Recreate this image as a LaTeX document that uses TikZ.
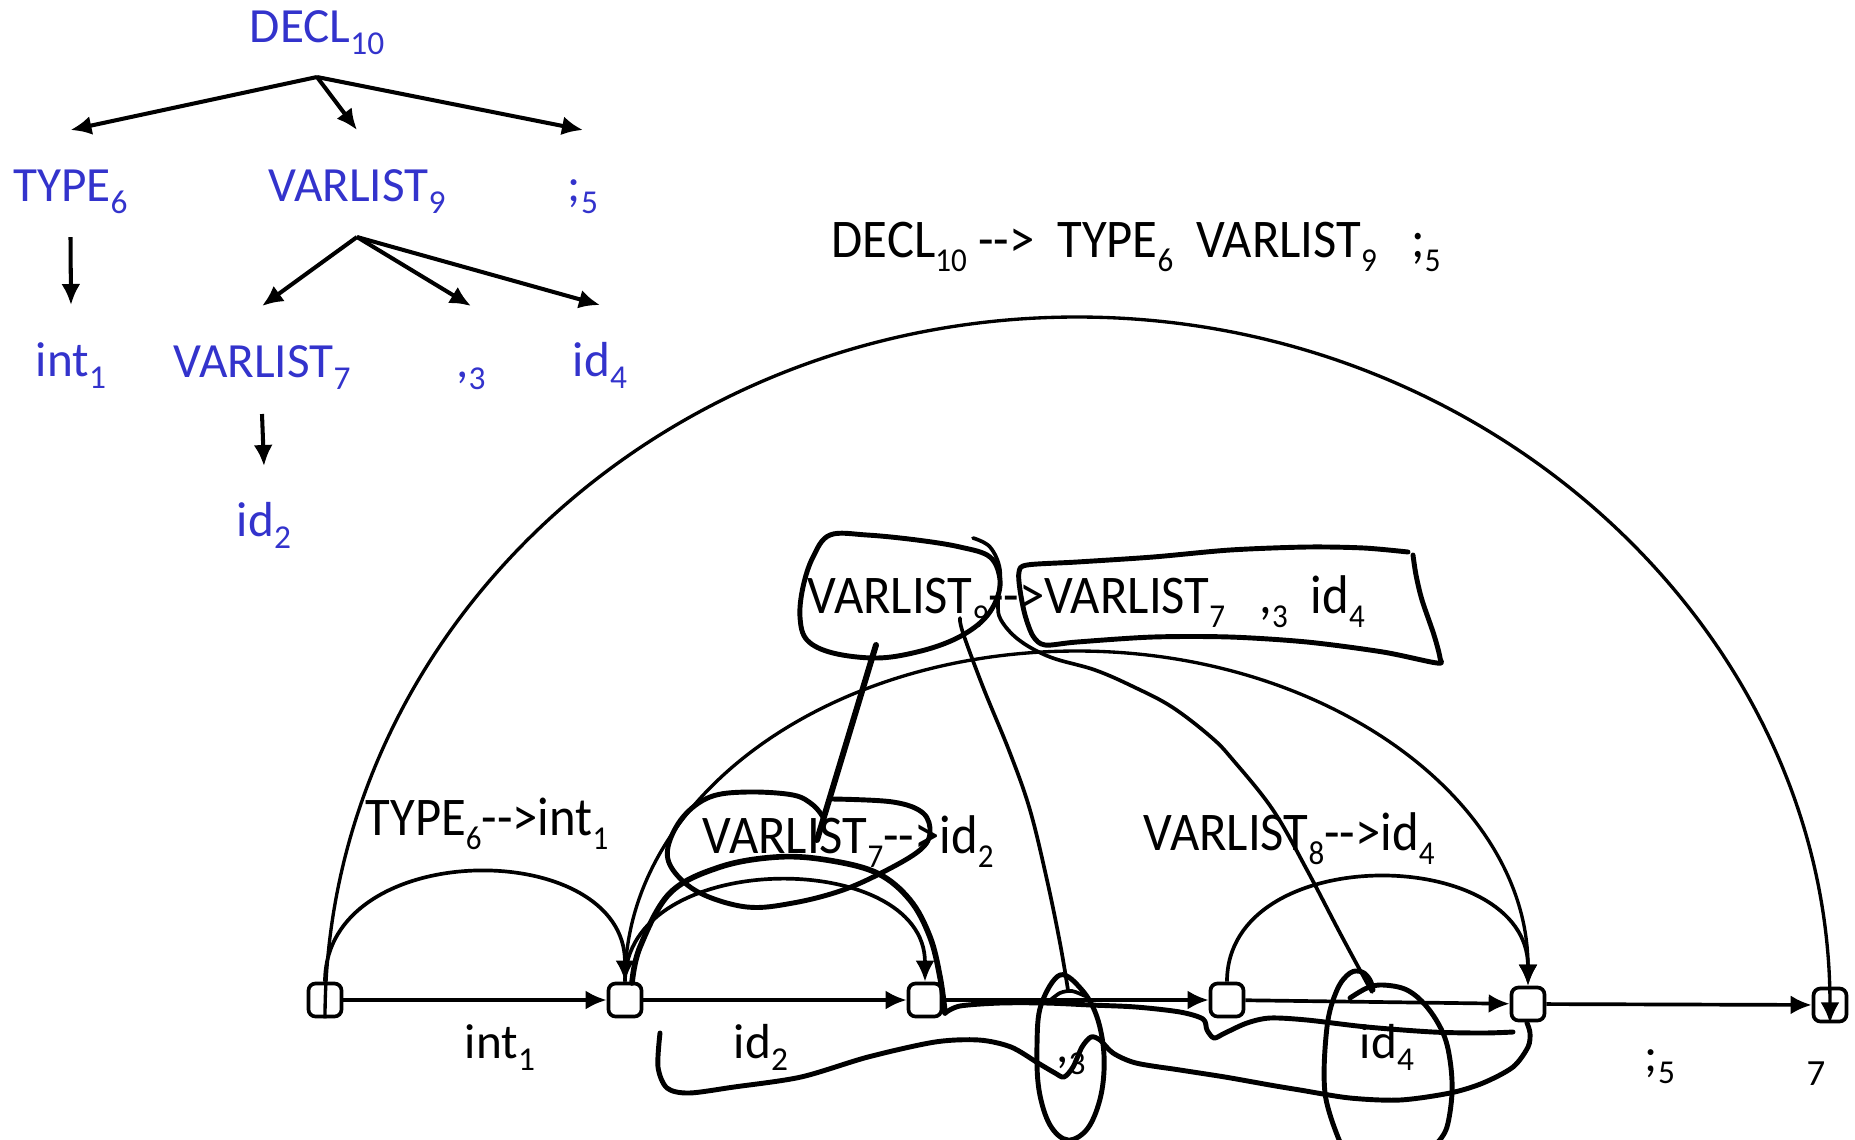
\documentclass[tikz,border=0pt]{standalone}
\usepackage{fontspec}
\setmainfont{Carlito}
\newfontfamily\tallfont[FakeStretch=0.93]{Carlito}
\usetikzlibrary{arrows.meta}
\definecolor{treeblue}{RGB}{51,51,204}
\newcommand{\ix}[1]{\raisebox{-0.26em}{\fontsize{9.5}{10}\selectfont #1}}
\newcommand{\yields}{-{}-{}>}

\begin{document}
\begin{tikzpicture}[
  every node/.style={font=\fontsize{14}{16}\selectfont, inner sep=0pt},
  treetext/.style={text=treeblue, anchor=base},
  ruletext/.style={anchor=base west, font=\tallfont\fontsize{15.5}{18}\selectfont},
  tree/.style={-{Latex[length=2.1mm,width=1.9mm]}, line width=1.15pt},
  edge/.style={-{Latex[length=2.1mm,width=1.9mm]}, line width=1.05pt},
  vertex/.style={draw, line width=1.05pt, rounded corners=2pt, minimum size=0.33cm},
  hand/.style={line width=1.4pt, line cap=round, line join=round}
]
  \useasboundingbox (0,0) rectangle (18.55,-11.39);

  % Parse tree
  \node[treetext] (decl) at (3.17,-0.42) {DECL\ix{10}};
  \node[treetext] (type) at (0.705,-2.01) {TYPE\ix{6}};
  \node[treetext] (vl9) at (3.57,-2.01) {VARLIST\ix{9}};
  \node[treetext] (semi) at (5.83,-2.01) {;\ix{5}};
  \node[treetext] (int) at (0.71,-3.76) {int\ix{1}};
  \node[treetext] (vl7) at (2.62,-3.77) {VARLIST\ix{7}};
  \node[treetext] (comma) at (4.71,-3.77) {,\ix{3}};
  \node[treetext] (id4) at (6.00,-3.76) {id\ix{4}};
  \node[treetext] (id2) at (2.64,-5.36) {id\ix{2}};

  \foreach \c in {type,vl9,semi}
    \draw[tree] ([yshift=-0.35cm]decl.base) -- ([yshift=0.71cm]\c.base);
  \draw[tree] ([yshift=-0.36cm]type.base) -- ([yshift=0.71cm]int.base);
  \foreach \c in {vl7,comma,id4}
    \draw[tree] ([yshift=-0.36cm]vl9.base) -- ([yshift=0.71cm]\c.base);
  \draw[tree] ([yshift=-0.37cm]vl7.base) -- ([yshift=0.70cm]id2.base);

  % Rule being reduced
  \node[ruletext] (r10) at (8.31,-2.57) {DECL\ix{10} \yields\ \ TYPE\ix{6}\ \ VARLIST\ix{9}\ \ \ ;\ix{5}};

  % Chart positions
  \node[vertex] (n1) at (3.25,-10.00) {};
  \node[vertex] (n2) at (6.25,-10.00) {};
  \node[vertex] (n3) at (9.25,-10.00) {};
  \node[vertex] (n4) at (12.27,-10.00) {};
  \node[vertex] (n5) at (15.28,-10.04) {};
  \node[vertex] (n6) at (18.30,-10.05) {};

  \foreach \a/\b in {n1/n2,n2/n3,n3/n4,n4/n5,n5/n6}
    \draw[edge] (\a) -- (\b);

  % Token labels
  \node[anchor=base] (tint) at (5.00,-10.58) {int\ix{1}};
  \node[anchor=base] (tid2) at (7.61,-10.58) {id\ix{2}};
  \node[anchor=base] (tcomma) at (10.71,-10.62) {,\ix{3}};
  \node[anchor=base] (tid4) at (13.87,-10.58) {id\ix{4}};
  \node[anchor=base] (tsemi) at (16.60,-10.71) {;\ix{5}};
  \node[anchor=base, font=\fontsize{10.5}{12}\selectfont] (tlast) at (18.16,-10.85) {7};

  % Completed edges
  \draw[edge] (n1.north) .. controls +(0,1.45) and +(0,1.45) .. (n2.north);
  \draw[edge] (n2.north) .. controls +(0,1.34) and +(0,1.34) .. (n3.north);
  \draw[edge] (n4.north) .. controls +(0,1.41) and +(0,1.41) .. (n5.north);
  \coordinate (top9) at (10.77,-6.51);
  \draw[edge, line width=0.95pt] (n2.north) .. controls +(0,1.84) and +(-2.50,0) .. (top9)
    .. controls +(2.49,0) and +(0,1.86) .. (n5.north);
  \coordinate (top10) at (10.77,-3.17);
  \draw[edge, line width=0.95pt] (n1.south) .. controls +(0,3.86) and +(-4.16,0) .. (top10)
    .. controls +(4.16,0) and +(0,3.89) .. (n6.south);

  \node[ruletext] (r6) at (3.65,-8.35) {TYPE\ix{6}\yields int\ix{1}};
  \node[ruletext] (r7) at (7.02,-8.53) {VARLIST\ix{7}\yields id\ix{2}};
  \node[ruletext] (r8) at (11.43,-8.50) {VARLIST\ix{8}\yields id\ix{4}};
  \node[ruletext] (r9) at (8.07,-6.13) {VARLIST\ix{9}\yields VARLIST\ix{7}\ \ \ ,\ix{3}\ \ id\ix{4}};

  % Pen marks: left-hand side
  \draw[hand] plot[smooth cycle, tension=0.6] coordinates {(8.30,-5.35) (8.67,-5.35) (9.17,-5.40)
    (9.60,-5.47) (9.90,-5.57) (10.00,-5.80) (9.95,-6.03) (9.80,-6.23) (9.53,-6.40) (9.17,-6.52)
    (8.77,-6.58) (8.33,-6.53) (8.07,-6.40) (8.00,-6.17) (8.03,-5.87) (8.13,-5.57)};
  % Pen marks: right-hand side
  \draw[hand] plot[smooth, tension=0.5] coordinates {(14.08,-5.52) (13.64,-5.48) (13.07,-5.47)
    (12.30,-5.50) (11.53,-5.57) (10.77,-5.62) (10.27,-5.65) (10.19,-5.72) (10.20,-5.90)
    (10.25,-6.15) (10.33,-6.36) (10.45,-6.45) (10.77,-6.42) (11.53,-6.37) (12.30,-6.37)
    (13.07,-6.42) (13.83,-6.52) (14.37,-6.63) (14.40,-6.58) (14.34,-6.35) (14.22,-6.00)
    (14.16,-5.75) (14.13,-5.55)};

  % Links down to the children
  \draw[hand, line width=1.7pt] (8.76,-6.45) -- (8.17,-8.40);
  \draw[hand, line width=1.05pt] plot[smooth, tension=0.6] coordinates {(9.60,-6.18) (9.63,-6.33)
    (9.83,-6.87) (10.10,-7.53) (10.30,-8.10) (10.47,-8.80) (10.60,-9.43) (10.68,-9.90)};
  \draw[hand, line width=1.05pt] plot[smooth] coordinates {(10.48,-10.02) (10.60,-9.93) (10.72,-9.91) (10.85,-9.96)};
  \draw[hand, line width=1.05pt] plot[smooth, tension=0.6] coordinates {(9.73,-5.38) (9.90,-5.47)
    (10.00,-5.70) (9.98,-6.03) (10.01,-6.20) (10.19,-6.40) (10.50,-6.57) (10.95,-6.70)
    (11.34,-6.87) (11.72,-7.07) (12.11,-7.37) (12.33,-7.60) (12.73,-8.10) (13.07,-8.70)
    (13.40,-9.33) (13.67,-9.83) (13.72,-9.92)};

  % Loop round VARLIST7
  \draw[hand] plot[smooth, tension=0.6] coordinates {(8.33,-7.99) (8.93,-8.02) (9.23,-8.13)
    (9.30,-8.33) (9.20,-8.50) (8.87,-8.70) (8.43,-8.90) (7.93,-9.03) (7.47,-9.07) (7.00,-8.93)
    (6.73,-8.70) (6.68,-8.47) (6.83,-8.17) (7.10,-7.97) (7.47,-7.92) (7.93,-7.95) (8.13,-8.05)
    (8.23,-8.17)};

  % Rings round the tokens
  \draw[hand] plot[smooth cycle, tension=0.6] coordinates {(10.60,-9.75) (10.82,-9.90)
    (10.97,-10.17) (11.04,-10.55) (11.01,-10.95) (10.88,-11.28) (10.68,-11.40) (10.50,-11.25)
    (10.39,-10.90) (10.37,-10.45) (10.41,-10.05)};
  \draw[hand] plot[smooth, tension=0.6] coordinates {(13.40,-11.42) (13.25,-10.93) (13.27,-10.27)
    (13.37,-9.90) (13.50,-9.73) (13.62,-9.72) (13.70,-9.80) (13.73,-9.90)};
  \draw[hand] plot[smooth, tension=0.6] coordinates {(13.50,-9.98) (13.67,-9.88) (13.83,-9.85)
    (14.07,-9.90) (14.27,-10.07) (14.43,-10.33) (14.50,-10.60) (14.52,-10.93) (14.47,-11.27)
    (14.38,-11.42)};

  % Span of VARLIST9 along the chart
  \draw[hand, line width=1.6pt] plot[smooth, tension=0.6] coordinates {(6.32,-9.83) (6.40,-9.47)
    (6.70,-8.93) (7.20,-8.67) (7.77,-8.57) (8.27,-8.60) (8.77,-8.73) (9.10,-9.00) (9.30,-9.37)
    (9.40,-9.77) (9.45,-10.13)};
  \draw[hand] plot[smooth, tension=0.5] coordinates {(9.45,-10.13) (9.60,-10.06) (10.00,-10.03)
    (10.46,-10.03) (10.91,-10.05) (11.36,-10.07) (11.80,-10.12) (12.03,-10.19) (12.07,-10.30)
    (12.14,-10.38) (12.25,-10.33) (12.47,-10.23) (12.70,-10.18) (13.07,-10.20) (13.67,-10.27)
    (14.33,-10.32) (14.83,-10.33) (15.13,-10.32)};
  \draw[hand] plot[smooth, tension=0.5] coordinates {(6.60,-10.33) (6.58,-10.67) (6.67,-10.88)
    (6.89,-10.93) (7.34,-10.87) (8.01,-10.77) (8.68,-10.57) (9.35,-10.42) (9.79,-10.40)
    (10.11,-10.47) (10.38,-10.63) (10.55,-10.73) (10.64,-10.77) (10.73,-10.67) (10.82,-10.47)
    (10.91,-10.37) (11.00,-10.40) (11.13,-10.53) (11.36,-10.63) (11.80,-10.70) (12.25,-10.77)
    (12.70,-10.85) (13.00,-10.90) (13.50,-10.98) (14.00,-11.00) (14.50,-10.93) (14.83,-10.83)
    (15.13,-10.67) (15.28,-10.47) (15.30,-10.33) (15.27,-10.23)};
\end{tikzpicture}
\end{document}
